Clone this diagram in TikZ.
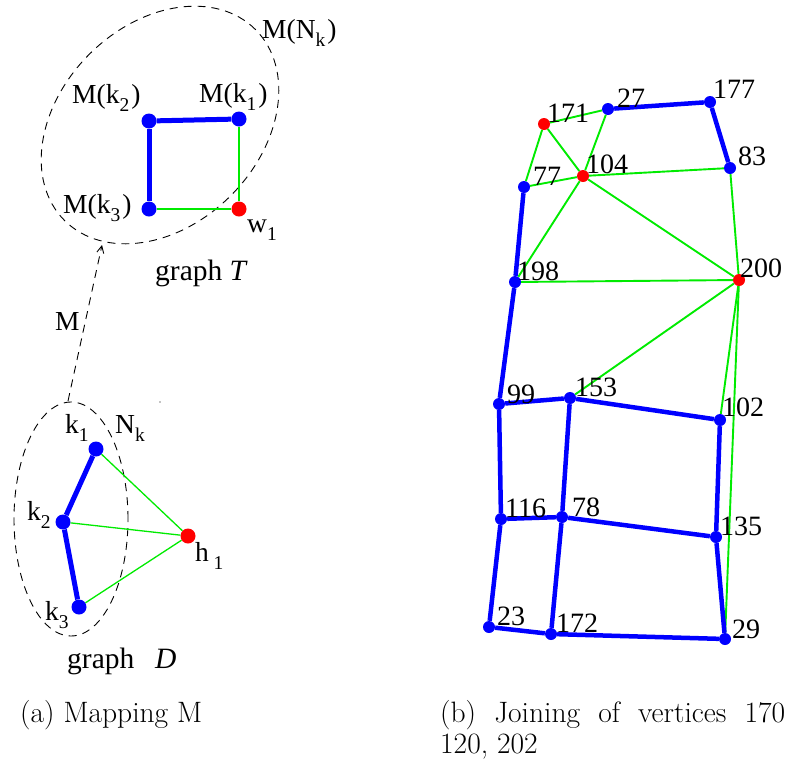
\documentclass[tikz,border=0pt]{standalone}
\usepackage{fontspec}
\newfontfamily\tms{Liberation Serif}
\usetikzlibrary{arrows.meta}
\definecolor{gEdge}{RGB}{0,235,0}
\definecolor{bEdge}{RGB}{0,0,255}
\definecolor{rNode}{RGB}{255,0,0}
\newcommand\lsub[1]{\raisebox{-0.3em}{\fontsize{19.5}{19.5}\selectfont #1}}
\begin{document}
\begin{tikzpicture}[x=1pt,y=-1pt,
  vA/.style={circle,inner sep=0pt,minimum size=15pt,fill=bEdge},
  vAr/.style={vA,fill=rNode},
  vB/.style={circle,inner sep=0pt,minimum size=12pt,fill=bEdge},
  vBr/.style={vB,fill=rNode},
  thickA/.style={line width=5pt,bEdge},
  thinA/.style={line width=1.3pt,gEdge},
  thickB/.style={line width=4.5pt,bEdge},
  thinB/.style={line width=1.9pt,gEdge},
  dashln/.style={line width=0.9pt,dash pattern=on 8pt off 6pt},
  lbl/.style={anchor=base west,inner sep=0pt,font={\tms\fontsize{27.5}{30}\selectfont}},
  glbl/.style={anchor=base west,inner sep=0pt,font={\tms\fontsize{29.5}{32}\selectfont}},
  num/.style={anchor=base west,inner sep=0pt,font={\tms\fontsize{28}{32}\selectfont}},
  capt/.style={anchor=base west,inner sep=0pt,font={\fontsize{29.5}{31}\selectfont}}]
\useasboundingbox (0,0) rectangle (787,761);
% ---------- graph T ----------
\draw[dashln,rotate around={45:(160,125)}] (160,125) ellipse [x radius=135pt,y radius=100pt];
\node[vA] (mk2) at (149,121) {};
\node[vA] (mk1) at (239,119) {};
\node[vA] (mk3) at (149,209) {};
\node[vAr] (w1) at (239,209) {};
\draw[thickA] (mk2) -- (mk1);
\draw[thickA] (mk2) -- (mk3);
\draw[thinA] (mk1) -- (w1);
\draw[thinA] (mk3) -- (w1);
\node[lbl] (lmk2) at (72,103) {M(k\lsub{2}\kern2pt)};
\node[lbl] (lmk1) at (199,102) {M(k\lsub{1}\kern2pt)};
\node[lbl] (lmk3) at (63,213) {M(k\lsub{3}\kern2pt)};
\node[lbl] (lw1) at (247,232) {w\lsub{1}};
\node[lbl] (lmnk) at (262,38) {M(N\lsub{k}\kern2pt)};
\node[glbl] (lgt) at (155,280) {graph {\itshape T}};
% ---------- mapping arrow ----------
\coordinate (mS) at (68,401);
\coordinate (mE) at (102,245);
\draw[dashln,-{Straight Barb[length=7pt,width=7pt,line width=0.9pt]}] (mS) -- (mE);
\node[lbl] (lM) at (55,330) {M};
\fill (160,402) circle[radius=0.7pt];
% ---------- graph D ----------
\draw[dashln] (71,519) ellipse [x radius=57pt,y radius=117pt];
\node[vA] (k1) at (96,449) {};
\node[vA] (k2) at (63,522) {};
\node[vA] (k3) at (79,607) {};
\node[vAr] (h1) at (188,536) {};
\draw[thickA] (k1) -- (k2);
\draw[thickA] (k2) -- (k3);
\draw[thinA] (k1) -- (h1);
\draw[thinA] (k2) -- (h1);
\draw[thinA] (k3) -- (h1);
\node[lbl] (lk1) at (65,433) {k\lsub{1}};
\node[lbl] (lnk) at (115,433) {N\lsub{k}};
\node[lbl] (lk2) at (27,520) {k\lsub{2}};
\node[lbl] (lk3) at (45,620) {k\lsub{3}};
\node[lbl] (lh1) at (195,561) {h\,\lsub{1}};
\node[glbl] (lgd) at (67,668) {graph\hspace{0.45em} {\itshape D}};
% ---------- graph (b) ----------
\node[vBr] (n171) at (544,124) {};
\node[vB] (n27) at (608,109) {};
\node[vB] (n177) at (710,102) {};
\node[vB] (n83) at (730,168) {};
\node[vBr] (n104) at (583,176) {};
\node[vB] (n77) at (524,187) {};
\node[vB] (n198) at (515,282) {};
\node[vBr] (n200) at (739,280) {};
\node[vB] (n99) at (499,404) {};
\node[vB] (n153) at (570,398) {};
\node[vB] (n102) at (720,420) {};
\node[vB] (n116) at (501,519) {};
\node[vB] (n78) at (562,517) {};
\node[vB] (n135) at (716,537) {};
\node[vB] (n23) at (489,627) {};
\node[vB] (n172) at (551,634) {};
\node[vB] (n29) at (725,639) {};
% green edges
\draw[thinB] (n171) -- (n27);
\draw[thinB] (n171) -- (n77);
\draw[thinB] (n171) -- (n104);
\draw[thinB] (n27) -- (n104);
\draw[thinB] (n77) -- (n104);
\draw[thinB] (n104) -- (n83);
\draw[thinB] (n104) -- (n198);
\draw[thinB] (n104) -- (n200);
\draw[thinB] (n83) -- (n200);
\draw[thinB] (n198) -- (n200);
\draw[thinB] (n200) -- (n153);
\draw[thinB] (n200) -- (n102);
\draw[thinB] (n200) -- (n29);
% blue edges
\draw[thickB] (n27) -- (n177);
\draw[thickB] (n177) -- (n83);
\draw[thickB] (n77) -- (n198);
\draw[thickB] (n198) -- (n99);
\draw[thickB] (n99) -- (n153);
\draw[thickB] (n153) -- (n102);
\draw[thickB] (n99) -- (n116);
\draw[thickB] (n153) -- (n78);
\draw[thickB] (n102) -- (n135);
\draw[thickB] (n116) -- (n78);
\draw[thickB] (n78) -- (n135);
\draw[thickB] (n116) -- (n23);
\draw[thickB] (n78) -- (n172);
\draw[thickB] (n135) -- (n29);
\draw[thickB] (n23) -- (n172);
\draw[thickB] (n172) -- (n29);
% labels
\node[num] (t171) at (547,122) {171};
\node[num] (t27) at (617,107) {27};
\node[num] (t177) at (713,98) {177};
\node[num] (t83) at (738,165) {83};
\node[num] (t104) at (586,173) {104};
\node[num] (t77) at (533,185) {77};
\node[num] (t198) at (517,280) {198};
\node[num] (t200) at (740,277) {200};
\node[num] (t99) at (507,403) {99};
\node[num] (t153) at (575,396) {153};
\node[num] (t102) at (722,416) {102};
\node[num] (t116) at (505,517) {116};
\node[num] (t78) at (572,516) {78};
\node[num] (t135) at (720,535) {135};
\node[num] (t23) at (497,625) {23};
\node[num] (t172) at (556,632) {172};
\node[num] (t29) at (732,638) {29};
% ---------- captions ----------
\node[capt] (capa) at (20,722) {(a) Mapping M};
\node[capt] (capb) at (440,722) {\parbox[t]{345pt}{(b) Joining of vertices 170\linebreak 120, 202}};
\end{tikzpicture}
\end{document}
